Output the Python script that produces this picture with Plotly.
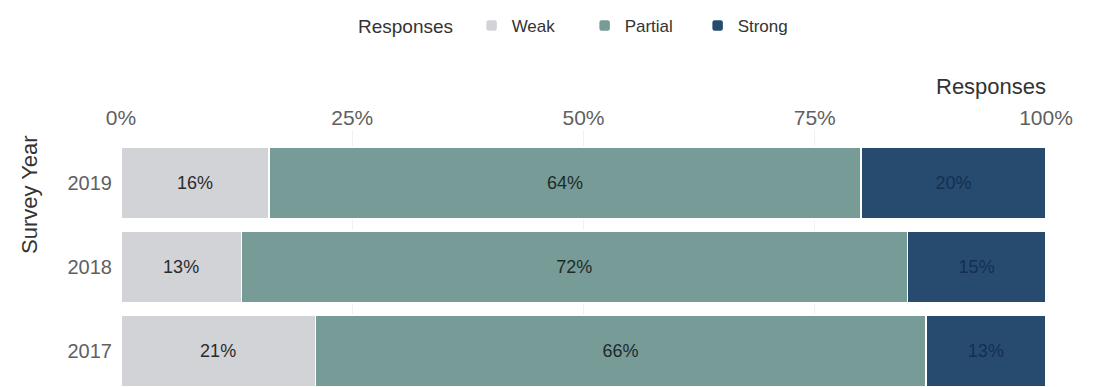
import plotly.graph_objects as go

years = ["2017", "2018", "2019"]
categories = ["Weak", "Partial", "Strong"]
weak = [0.21, 0.13, 0.16]
partial = [0.66, 0.72, 0.64]
strong = [0.13, 0.15, 0.20]
tick_vals = [0, 0.25, 0.5, 0.75, 1.0]
tick_text = ["0%", "25%", "50%", "75%", "100%"]

colors = {"Weak": "#d2d3d7", "Partial": "#779b96", "Strong": "#264b6f"}
text_colors = {"Weak": "#2b2b2b", "Partial": "#1d2b2b", "Strong": "#13304f"}
series = {"Weak": weak, "Partial": partial, "Strong": strong}

FONT = "Liberation Sans"
fig = go.Figure()
for name in categories:
    vals = series[name]
    fig.add_trace(go.Bar(
        name=name, y=years, x=vals, orientation="h",
        marker=dict(color=colors[name], line=dict(color="white", width=1.5), cornerradius=3),
        text=[f"{round(v*100)}%" for v in vals],
        textposition="inside", insidetextanchor="middle",
        textfont=dict(family=FONT, size=18, color=text_colors[name]),
        hovertemplate="%{y}: %{x:.0%}<extra>" + name + "</extra>",
    ))

fig.update_layout(
    width=1091, height=379,
    barmode="stack", bargap=0.14,
    plot_bgcolor="white", paper_bgcolor="white",
    margin=dict(l=113, r=53, t=122, b=0),
    font=dict(family=FONT, color="#555555", size=18),
    legend=dict(
        orientation="h", x=0.5, xanchor="center", xref="paper",
        y=1, yanchor="top", yref="container",
        title=dict(text="Responses  ", font=dict(size=19, color="#333333")),
        font=dict(size=17, color="#333333"),
        traceorder="normal", entrywidth=68,
    ),
    xaxis=dict(
        side="top", range=[0, 1], tickvals=tick_vals, ticktext=tick_text,
        showgrid=True, gridcolor="#f0f1f3", zeroline=False, showline=False,
        tickfont=dict(size=21, color="#5f5f5f"), ticks="",
    ),
    yaxis=dict(
        categoryorder="array", categoryarray=years,
        range=[-0.429, 2.631], showgrid=False, zeroline=False,
        tickfont=dict(size=20, color="#5f5f5f"), ticks="", ticklabelstandoff=8,
    ),
    annotations=[
        dict(text="Responses", xref="paper", yref="paper", x=1.0, y=1.0,
             xanchor="right", yanchor="bottom", yshift=29, xshift=2, showarrow=False,
             font=dict(family=FONT, size=22, color="#333333")),
        dict(text="Survey Year", xref="paper", yref="y", x=0, y=1.857,
             xanchor="center", yanchor="middle", xshift=-92, textangle=-90,
             showarrow=False, font=dict(family=FONT, size=22, color="#333333")),
    ],
)

fig.write_html("out.html")
